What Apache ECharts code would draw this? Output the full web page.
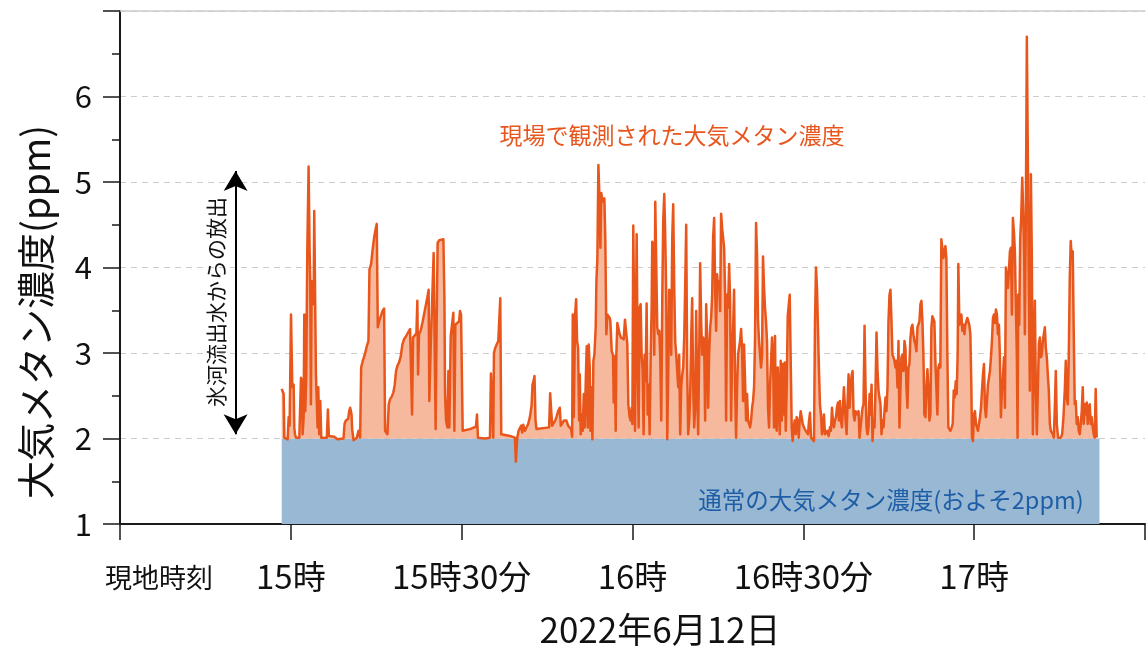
<!DOCTYPE html>
<html>
<head>
<meta charset="utf-8">
<script src="https://cdn.jsdelivr.net/npm/echarts@6/dist/echarts.min.js"></script>
<style>html,body{margin:0;padding:0;background:#fff}#chart{width:1148px;height:648px}</style>
</head>
<body>
<div id="chart"></div>
<script>
// time is minutes of day (870 = 14:30, 900 = 15:00 ...), value is ppm
const xTickValues = [870, 900, 930, 960, 990, 1020, 1050];
const xTickLabels = ['', '15時', '15時30分', '16時', '16時30分', '17時', ''];
const yTickValues = [1, 2, 3, 4, 5, 6, 7];
const yTickLabels = ['1', '2', '3', '4', '5', '6', ''];
const normalLevel = 2;
const normalTimes = [898.4, 1042.0];
const releaseArrow = {time: 890.3, from: 2.05, to: 5.13};

const observed1500 = [[898.39,2.58],[898.74,2.52],[898.86,2.01],[899.44,1.99],[899.62,2.25],[899.79,2.15],[900.03,3.45],[900.26,2.60],[900.49,2.63],[900.61,2.13],[900.73,2.05],[900.90,2.01],[901.19,1.99],[901.49,2.01],[901.78,2.71],[901.95,2.67],[902.07,2.05],[902.25,2.25],[902.36,3.45],[902.54,2.32],[902.71,2.75],[902.89,4.19],[903.12,5.18],[903.30,4.19],[903.41,3.84],[903.53,2.40],[903.65,3.84],[903.82,3.65],[904.00,3.57],[904.11,4.66],[904.29,4.64],[904.41,2.75],[904.58,2.73],[904.70,2.13],[904.82,2.60],[904.99,2.05],[905.17,2.44],[905.34,2.01],[905.87,2.01],[906.33,2.01],[906.51,2.34],[906.68,2.03],[907.62,2.02],[908.20,1.99],[909.25,2.00],[909.43,2.17],[909.66,2.21],[910.07,2.23],[910.25,2.32],[910.42,2.36],[910.66,2.28],[910.77,2.11],[911.01,1.98],[911.24,1.97],[911.59,2.01],[911.88,2.09],[912.17,2.01],[912.35,2.83],[912.64,2.91],[912.99,2.98],[913.34,3.08],[913.63,3.14],[913.81,3.98],[914.10,4.04],[914.33,4.19],[914.63,4.35],[914.92,4.46],[915.09,4.51],[915.27,3.30],[915.50,3.37],[915.79,3.39],[916.09,3.49],[916.38,3.52],[916.55,2.09],[916.96,2.05],[917.20,2.40],[917.43,2.46],[917.72,2.49],[918.01,2.54],[918.25,2.63],[918.48,2.79],[918.71,2.85],[919.01,2.89],[919.30,2.96],[919.59,3.10],[919.88,3.16],[920.18,3.19],[920.59,3.24],[920.94,3.28],[921.17,3.28],[921.29,2.28],[921.46,3.18],[921.75,3.20],[922.05,3.23],[922.22,3.61],[922.34,2.75],[922.51,3.22],[922.80,3.26],[923.10,3.35],[923.39,3.45],[923.68,3.55],[923.97,3.65],[924.20,3.74],[924.32,2.44],[924.56,3.06],[924.85,3.08],[925.08,4.17],[925.26,3.06],[925.43,2.11],[925.61,3.37],[925.78,4.29],[926.07,4.32],[926.31,4.33]];

const observed1530 = [[926.79,4.33],[926.97,3.65],[927.08,2.52],[927.26,2.21],[927.49,2.13],[927.67,2.79],[927.84,2.13],[928.08,3.20],[928.31,3.22],[928.54,3.47],[928.72,2.09],[928.89,3.33],[929.24,3.33],[929.54,3.37],[929.71,3.49],[929.89,3.45],[930.06,3.45],[930.18,2.09],[930.41,2.11],[931.46,2.11],[932.51,2.14],[932.69,2.28],[932.86,2.01],[934.09,2.00],[934.97,2.01],[935.14,2.76],[935.38,2.76],[935.55,2.01],[935.67,3.00],[935.90,3.06],[936.14,3.10],[936.43,3.14],[936.60,3.16],[936.78,3.64],[936.95,2.05],[937.30,2.04],[938.47,2.03],[939.35,2.01],[939.52,1.73],[939.76,2.01],[939.99,2.09],[940.22,2.10],[940.46,2.15],[940.63,2.07],[940.81,2.16],[941.10,2.09],[941.39,2.11],[941.68,2.17],[941.98,2.25],[942.27,2.38],[942.44,2.63],[942.62,2.67],[942.79,2.73],[942.97,2.21],[943.14,2.11],[945.36,2.13],[945.54,2.53],[945.71,2.52],[945.89,2.15],[946.18,2.15],[946.42,2.21],[946.65,2.25],[946.94,2.32],[947.23,2.36],[947.41,2.15],[947.70,2.18],[947.94,2.21],[948.17,2.19],[948.40,2.21],[948.69,2.15],[948.99,2.13],[949.22,2.11],[949.40,2.02],[949.51,3.45],[949.69,2.25],[949.92,3.45],[950.10,3.63],[950.27,3.14],[950.45,3.06],[950.62,2.21],[950.74,2.75],[950.91,2.05],[951.09,2.28],[951.26,2.09],[951.44,2.52],[951.61,2.13],[951.79,2.67],[951.96,3.08],[952.14,2.13],[952.31,3.10],[952.49,2.83],[952.61,2.09],[952.78,2.60],[952.96,1.99],[953.13,2.91],[953.31,2.98],[953.54,3.30],[953.66,3.84],[953.83,4.11],[954.01,5.20],[954.18,4.85],[954.36,4.23],[954.53,4.87],[954.71,4.77],[954.88,4.79],[955.06,4.81],[955.23,4.31],[955.41,3.22],[955.58,3.45],[955.82,3.43],[956.00,3.41]];

const observed1600 = [[956.11,3.37],[956.35,3.02],[956.58,2.98],[956.70,2.42],[956.87,2.96],[957.05,2.09],[957.16,2.98],[957.34,3.35],[957.52,3.33],[957.75,3.22],[957.98,3.18],[958.22,3.20],[958.45,3.16],[958.68,3.39],[958.92,3.22],[959.09,3.10],[959.27,2.40],[959.50,2.25],[959.68,2.21],[959.85,2.36],[959.97,2.17],[960.14,4.49],[960.32,3.18],[960.44,2.09],[960.55,2.98],[960.73,4.39],[960.90,2.98],[961.08,2.13],[961.25,3.53],[961.43,3.57],[961.60,2.98],[961.78,2.79],[961.95,2.05],[962.13,2.98],[962.30,2.67],[962.48,3.58],[962.66,2.28],[962.83,2.63],[963.01,2.05],[963.18,2.91],[963.36,3.53],[963.47,4.30],[963.65,4.27],[963.82,2.98],[964.00,4.77],[964.17,4.04],[964.35,3.30],[964.52,3.22],[964.70,3.26],[964.87,2.98],[965.05,2.21],[965.23,3.65],[965.40,4.56],[965.58,4.86],[965.75,4.35],[965.93,3.65],[966.10,1.99],[966.28,2.79],[966.45,3.74],[966.63,3.68],[966.80,2.98],[966.98,4.35],[967.15,4.74],[967.33,3.76],[967.50,3.14],[967.68,2.98],[967.85,2.79],[968.03,2.60],[968.20,2.98],[968.38,2.05],[968.55,2.60],[968.73,2.75],[968.90,2.83],[969.08,3.18],[969.25,3.76],[969.43,4.50],[969.61,2.79],[969.78,2.05],[969.96,2.21],[970.13,2.52],[970.31,3.18],[970.48,3.64],[970.66,2.60],[970.83,2.13],[971.01,2.36],[971.18,3.49],[971.36,2.60],[971.53,2.05],[971.71,2.98],[971.88,4.05],[972.06,3.37],[972.23,2.98],[972.41,3.18],[972.58,3.14],[972.76,2.21],[972.94,3.57],[973.11,3.14],[973.29,2.36],[973.46,2.98],[973.64,3.30],[973.81,3.41],[973.99,3.68],[974.16,4.35],[974.34,4.58],[974.51,3.76],[974.69,3.26],[974.86,3.92],[975.04,3.76],[975.21,3.84],[975.39,3.49],[975.56,4.63],[975.74,4.46],[975.91,4.35],[976.09,4.23],[976.27,3.68],[976.44,2.21],[976.62,3.68],[976.79,3.53],[976.97,4.04],[977.14,3.61],[977.32,2.21],[977.49,2.98],[977.67,3.30],[977.84,3.74],[978.02,2.60],[978.19,2.01],[978.37,2.60],[978.54,2.98],[978.72,2.98],[978.89,3.14],[979.07,3.28],[979.24,3.06],[979.42,2.44],[979.59,3.10],[979.77,2.67],[979.95,2.21],[980.12,2.52],[980.30,2.21],[980.47,2.17],[980.65,2.13],[980.82,2.21],[981.00,2.36],[981.17,2.44],[981.35,2.60],[981.52,3.18],[981.70,4.52],[981.87,4.15],[982.05,3.37],[982.22,3.14],[982.40,2.98],[982.57,2.83],[982.75,2.98],[982.92,4.13],[983.10,3.76],[983.27,3.53],[983.45,3.37],[983.62,3.14],[983.80,2.36],[983.98,2.13],[984.15,2.60],[984.33,2.91],[984.50,3.18],[984.68,2.98],[984.85,2.13],[985.03,3.20]];

const observed1630 = [[985.16,2.21],[985.33,2.09],[985.51,2.83],[985.68,2.52],[985.86,2.05],[986.03,2.91],[986.21,2.21],[986.38,2.87],[986.56,2.28],[986.73,2.89],[986.91,2.09],[987.08,2.60],[987.26,3.43],[987.43,3.45],[987.61,3.68],[987.78,3.68],[987.96,2.13],[988.13,1.97],[988.31,2.13],[988.48,2.21],[988.66,2.05],[988.83,2.25],[989.01,2.21],[989.19,2.01],[989.36,2.21],[989.54,2.32],[989.71,2.32],[989.89,2.17],[990.24,2.11],[990.53,2.09],[990.82,2.05],[991.00,2.21],[991.17,2.30],[991.35,2.01],[991.52,1.99],[991.87,1.97],[992.05,3.37],[992.22,4.00],[992.40,3.76],[992.57,3.76],[992.75,2.79],[992.92,2.40],[993.10,2.28],[993.27,2.05],[993.45,2.13],[993.62,2.28],[993.80,2.05],[994.03,2.05],[994.21,2.09],[994.44,2.03],[994.68,2.13],[994.85,2.09],[995.03,2.36],[995.20,2.21],[995.38,2.13],[995.55,2.21],[995.73,2.25],[995.90,2.36],[996.08,2.42],[996.25,2.21],[996.43,2.44],[996.60,2.21],[996.78,2.13],[996.95,2.36],[997.13,2.60],[997.25,2.60],[997.42,2.21],[997.60,2.05],[997.77,2.44],[997.95,2.75],[998.12,2.36],[998.30,2.60],[998.47,2.73],[998.65,2.79],[998.82,2.28],[999.00,2.21],[999.17,2.32],[999.35,2.34],[999.52,2.28],[999.70,2.32],[999.87,2.01],[1000.05,2.01],[1000.22,2.25],[1000.40,2.36],[1000.57,2.40],[1000.75,3.32],[1000.92,2.60],[1001.10,2.13],[1001.27,2.05],[1001.45,2.13],[1001.63,2.52],[1001.80,2.28],[1001.98,2.63],[1002.15,1.97],[1002.33,2.21],[1002.50,2.13],[1002.68,2.60],[1002.85,3.24],[1003.03,2.79],[1003.20,2.56],[1003.38,2.56],[1003.55,2.40],[1003.73,2.05],[1003.90,2.21],[1004.08,2.13],[1004.25,2.32],[1004.43,2.48],[1004.60,2.32],[1004.78,2.60],[1004.95,3.37],[1005.13,3.68],[1005.30,3.74],[1005.48,3.37],[1005.65,2.98],[1005.83,2.95],[1006.00,2.91],[1006.18,2.83],[1006.36,2.91],[1006.53,2.60],[1006.71,3.14],[1006.88,2.13],[1007.06,2.60],[1007.23,2.95],[1007.41,2.98],[1007.58,2.79],[1007.76,3.14],[1007.93,3.06],[1008.11,2.60],[1008.28,2.36],[1008.46,2.83],[1008.63,2.87],[1008.81,3.18],[1008.98,3.30],[1009.16,3.33],[1009.33,3.22],[1009.51,3.14],[1009.68,3.10],[1009.86,3.02],[1010.04,3.30],[1010.21,3.30],[1010.39,3.37],[1010.56,3.57],[1010.74,3.61],[1010.91,3.37],[1011.09,2.98],[1011.26,2.28],[1011.44,2.25],[1011.61,2.60],[1011.79,2.81],[1011.96,2.60],[1012.14,2.21],[1012.31,2.28],[1012.49,3.30],[1012.66,3.43],[1012.84,3.41],[1013.01,3.37],[1013.19,2.91],[1013.36,2.60],[1013.54,2.28],[1013.71,2.83],[1013.89,2.87],[1014.06,2.83],[1014.24,4.33]];

const observed1700 = [[1014.42,4.33],[1014.60,4.11],[1014.77,4.19],[1014.95,4.25],[1015.12,4.11],[1015.30,2.95],[1015.47,2.13],[1015.65,2.11],[1015.82,2.09],[1016.06,2.13],[1016.23,2.17],[1016.41,2.56],[1016.58,2.48],[1016.76,2.67],[1016.93,2.52],[1017.11,3.02],[1017.22,4.04],[1017.40,3.33],[1017.57,3.41],[1017.75,3.45],[1017.93,3.26],[1018.10,3.33],[1018.28,3.22],[1018.45,3.33],[1018.63,3.37],[1018.80,3.41],[1018.98,3.39],[1019.15,3.33],[1019.33,3.22],[1019.50,2.63],[1019.62,2.01],[1019.79,1.97],[1019.97,2.28],[1020.14,2.32],[1020.32,2.17],[1020.49,2.13],[1020.67,2.09],[1020.84,2.17],[1021.02,2.25],[1021.20,2.36],[1021.37,2.56],[1021.55,2.75],[1021.72,2.87],[1021.90,2.36],[1022.07,2.25],[1022.25,2.44],[1022.42,2.63],[1022.60,2.71],[1022.77,2.79],[1022.95,2.95],[1023.12,3.14],[1023.30,3.41],[1023.47,3.45],[1023.65,3.35],[1023.82,3.51],[1024.00,3.45],[1024.17,3.22],[1024.35,3.33],[1024.52,2.95],[1024.70,2.25],[1024.87,2.56],[1025.05,2.71],[1025.23,2.95],[1025.40,2.36],[1025.58,4.00],[1025.75,3.88],[1025.93,3.76],[1026.10,3.96],[1026.28,4.19],[1026.45,4.23],[1026.63,3.45],[1026.80,4.58],[1026.98,4.42],[1027.15,4.19],[1027.33,3.53],[1027.50,2.95],[1027.62,2.01],[1027.74,3.68],[1027.91,3.33],[1028.09,4.35],[1028.26,4.58],[1028.44,5.05],[1028.61,4.66],[1028.79,4.11],[1028.90,3.22],[1029.08,4.66],[1029.25,6.70],[1029.43,5.28],[1029.60,3.72],[1029.78,2.56],[1029.96,5.09],[1030.13,4.11],[1030.31,2.05],[1030.48,2.95],[1030.66,3.61],[1030.83,2.56],[1031.01,2.05],[1031.18,2.56],[1031.36,3.10],[1031.53,3.18],[1031.71,2.95],[1031.88,2.98],[1032.06,3.14],[1032.23,3.22],[1032.41,3.30],[1032.58,3.06],[1032.76,2.95],[1032.93,2.75],[1033.11,2.56],[1033.29,2.17],[1033.46,2.09],[1033.81,2.05],[1033.99,2.01],[1034.16,2.36],[1034.34,2.79],[1034.51,2.17],[1034.74,2.01],[1034.98,1.99],[1035.21,2.01],[1035.45,2.05],[1035.68,2.25],[1035.91,2.56],[1036.09,2.91],[1036.26,2.48],[1036.44,2.40],[1036.61,2.95],[1036.79,3.88],[1036.96,4.31],[1037.14,4.11],[1037.31,4.19],[1037.49,3.22],[1037.66,2.40],[1037.84,2.44],[1038.02,2.17],[1038.19,2.25],[1038.37,2.09],[1038.54,2.05],[1038.72,2.17],[1038.89,2.32],[1039.07,2.60],[1039.24,2.17],[1039.42,2.40],[1039.59,2.28],[1039.77,2.42],[1039.94,2.17],[1040.12,2.36],[1040.29,2.40],[1040.47,2.17],[1040.64,2.25],[1040.82,2.13],[1040.99,2.05],[1041.17,2.01],[1041.34,2.58],[1041.52,2.01]];

const FONT = '"Noto Sans CJK JP", "Noto Sans", sans-serif';
const observed = [].concat(observed1500, observed1530, observed1600, observed1630, observed1700);
const normalData = normalTimes.map(t => [t, normalLevel]);

const chart = echarts.init(document.getElementById('chart'), null, {renderer: 'canvas'});
const axisColor = '#1a1a1a';

function textEl(text, x, y, size, color, rotation) {
  return {
    type: 'text', x: x, y: y, rotation: rotation || 0, silent: true, z: 100,
    style: {text: text, fontSize: size, fontFamily: FONT, fill: color,
      align: 'center', verticalAlign: 'middle', textAlign: 'center', textVerticalAlign: 'middle'}
  };
}

chart.setOption({
  animation: false,
  backgroundColor: '#ffffff',
  grid: {left: 120, right: 1, top: 11, bottom: 124, containLabel: false},
  xAxis: [{
    type: 'value', min: 870, max: 1050, interval: 30,
    axisLine: {show: true, lineStyle: {color: axisColor, width: 2}},
    axisTick: {show: true, inside: false, length: 16, lineStyle: {color: axisColor, width: 1.5}},
    axisLabel: {
      show: true, margin: 36, fontSize: 33, color: '#111', fontFamily: FONT,
      formatter: v => { const i = xTickValues.indexOf(v); return i >= 0 ? xTickLabels[i] : ''; }
    },
    splitLine: {show: false}
  }, {
    type: 'value', position: 'top', min: 870, max: 1050, interval: 30,
    axisLine: {show: true, onZero: false, lineStyle: {color: '#cccccc', width: 1.5}},
    axisTick: {show: false}, axisLabel: {show: false}, splitLine: {show: false}
  }],
  yAxis: {
    type: 'value', min: 1, max: 7, interval: 1,
    axisLine: {show: true, lineStyle: {color: axisColor, width: 2}},
    axisTick: {show: true, inside: false, length: 17, lineStyle: {color: axisColor, width: 1.5}},
    minorTick: {show: true, splitNumber: 2, length: 8, lineStyle: {color: axisColor, width: 1.5}},
    axisLabel: {
      margin: 28, fontSize: 31, color: '#111', fontFamily: FONT,
      formatter: v => { const i = yTickValues.indexOf(v); return i >= 0 ? yTickLabels[i] : ''; }
    },
    splitLine: {show: true, lineStyle: {color: '#cccccc', width: 1.2, type: [6, 5]}}
  },
  series: [{
    name: '通常の大気メタン濃度',
    type: 'line', data: normalData, symbol: 'none', silent: true, z: 2,
    lineStyle: {width: 0, color: '#98b8d3'},
    itemStyle: {color: '#98b8d3'},
    areaStyle: {color: '#98b8d3', opacity: 1, origin: 'start'},
    markLine: {
      silent: true, symbol: ['arrow', 'arrow'], symbolSize: [18, 20],
      lineStyle: {color: '#000', width: 2, type: 'solid'},
      label: {show: false},
      data: [[{coord: [releaseArrow.time, releaseArrow.from]}, {coord: [releaseArrow.time, releaseArrow.to]}]]
    }
  }, {
    name: '現場で観測された大気メタン濃度',
    type: 'line', data: observed, symbol: 'none', silent: true, z: 3,
    lineStyle: {width: 2.5, color: '#e9561b', join: 'round'},
    itemStyle: {color: '#e9561b'},
    areaStyle: {color: '#f6b99d', opacity: 1, origin: normalLevel}
  }],
  graphic: [
    textEl('大気メタン濃度(ppm)', 36, 312, 38, '#111', Math.PI / 2),
    textEl('氷河流出水からの放出', 216, 302, 21, '#111', Math.PI / 2),
    textEl('現場で観測された大気メタン濃度', 672, 135, 23, '#e8561e'),
    textEl('通常の大気メタン濃度(およそ2ppm)', 891, 500, 23.5, '#1e5ea6'),
    textEl('現地時刻', 159, 578, 27, '#111'),
    textEl('2022年6月12日', 660, 630, 35, '#111')
  ]
});
</script>
</body>
</html>
